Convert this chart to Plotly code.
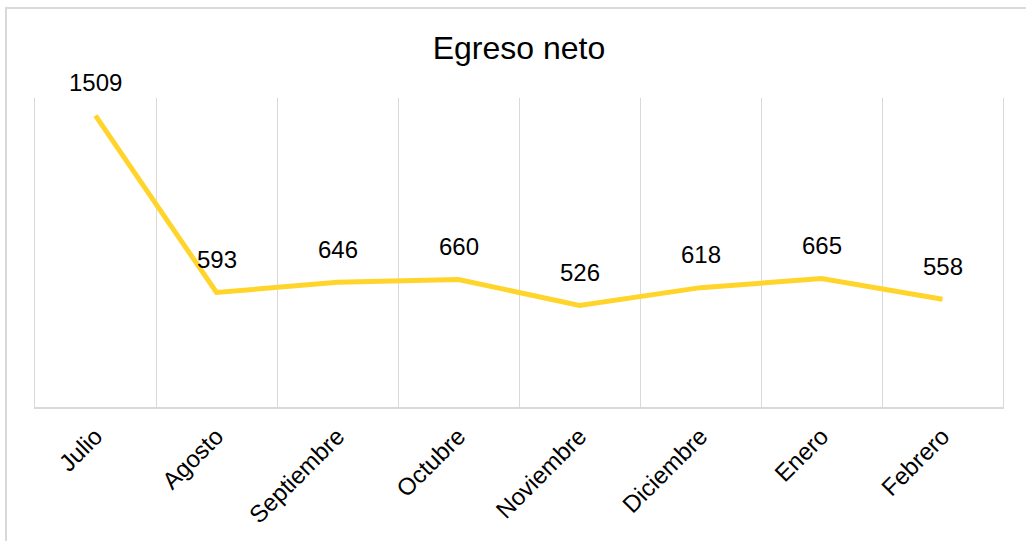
import plotly.graph_objects as go

months = ["Julio", "Agosto", "Septiembre", "Octubre", "Noviembre", "Diciembre", "Enero", "Febrero"]
egreso = [1509, 593, 646, 660, 526, 618, 665, 558]

FONT = "Liberation Sans, Arial, sans-serif"
GRID = "#d9d9d9"

fig = go.Figure()
fig.add_trace(go.Scatter(
    x=months, y=egreso, mode="lines",
    line=dict(color="#FFD52B", width=5),
    hoverinfo="x+y", showlegend=False,
))

for m, v in zip(months, egreso):
    fig.add_annotation(x=m, y=v, text=str(v), showarrow=False,
                       yshift=33, font=dict(family=FONT, size=24, color="#000000"))

fig.update_layout(
    width=1026, height=541,
    margin=dict(l=35, r=23, t=98, b=134),
    paper_bgcolor="white", plot_bgcolor="white",
    title=dict(text="Egreso neto", xref="paper", x=0.5, xanchor="center",
               y=1 - 48 / 541, yanchor="middle",
               font=dict(family=FONT, size=32, color="#000000")),
    xaxis=dict(type="category", range=[-0.5, 7.5], tickson="boundaries",
               showgrid=True, gridcolor=GRID, gridwidth=1,
               showline=True, linecolor=GRID, linewidth=1.5,
               ticks="", tickangle=-45, ticklabelstandoff=4,
               tickfont=dict(family=FONT, size=24, color="#000000")),
    yaxis=dict(range=[0, 1600], showgrid=False, zeroline=False, showticklabels=False,
               showline=True, linecolor=GRID, linewidth=1, mirror=True),
    shapes=[dict(type="rect", xref="paper", yref="paper",
                 x0=(6 - 35) / 968, x1=1.2, y0=-1.0, y1=(407 - 8) / 309,
                 line=dict(color=GRID, width=2), fillcolor="rgba(0,0,0,0)", layer="below")],
)

fig.write_html("out.html", config={"displayModeBar": False},
               post_script="document.body.style.margin='0px';document.body.style.overflow='hidden';")
